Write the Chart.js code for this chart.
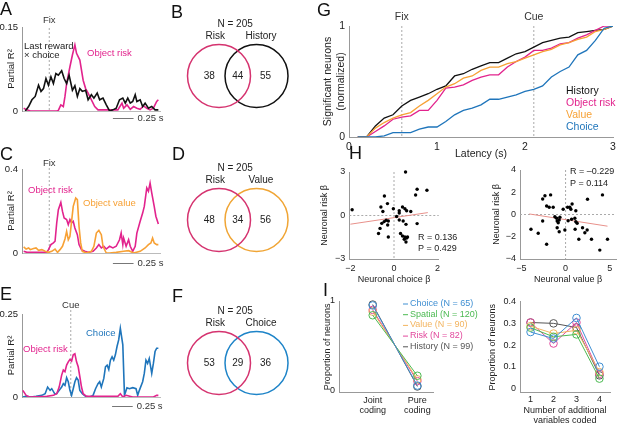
<!DOCTYPE html>
<html>
<head>
<meta charset="utf-8">
<script src="https://cdn.jsdelivr.net/npm/chart.js@4.4.1/dist/chart.umd.min.js"></script>
<style>
  body { margin: 0; background: #fff; }
  #fig { position: relative; width: 617px; height: 423px; overflow: hidden; background: #fff;
         font-family: "Liberation Sans", Arial, Helvetica, sans-serif; }
  #fig canvas { position: absolute; }
  .let { position: absolute; font-size: 18px; line-height: 18px; color: #111; }
</style>
</head>
<body>
<div id="fig"></div>
<script>
// ---- A: time from Fix (s) / partial R2
const aHistT = [-0.29,-0.25,-0.21,-0.17,-0.13,-0.10,-0.07,-0.04,-0.01,0.02,0.05,0.08,0.11,0.15,0.18,0.21,0.24,0.28,0.31,0.34,0.37,0.40,0.44,0.47,0.51,0.54,0.58,0.61,0.65,0.69,0.73,0.77,0.81,0.85,0.89,0.92,0.95,0.98,1.01,1.04,1.06,1.10,1.13,1.16,1.20,1.24,1.28,1.32];
const aHistR2 = [0,0.008,0.020,0.026,0.046,0.035,0.040,0.058,0.046,0.061,0.049,0.067,0.064,0.072,0.058,0.049,0.064,0.037,0.045,0.026,0.040,0.035,0.037,0.020,0.029,0.023,0.032,0.020,0.023,0.011,0,0.002,0.005,0.020,0.023,0.014,0.023,0.014,0.017,0.029,0.017,0.020,0.008,0.014,0.005,0.008,0.002,0.002];
const aRiskT = [-0.31,-0.27,-0.23,0.09,0.11,0.14,0.17,0.19,0.21,0.25,0.28,0.31,0.33,0.37,0.41,0.44,0.47,0.51,0.55,0.59,0.83,0.88,0.90,0.94,0.98,1.02,1.06,1.10,1.14,1.18,1.22,1.26,1.30,1.32];
const aRiskR2 = [0.005,0.002,0,0,0.001,0.011,0.008,0.026,0.049,0.079,0.100,0.118,0.103,0.091,0.055,0.040,0.032,0.020,0.008,0.002,0.002,0.014,0.005,0.011,0.003,0.008,0.005,0.003,0.009,0.005,0.002,0.005,0.017,0.020];

// ---- C: time from Fix (s)
const cRiskT = [-0.31,-0.27,-0.23,-0.03,-0.01,0.02,0.05,0.07,0.09,0.11,0.14,0.16,0.18,0.21,0.23,0.25,0.27,0.29,0.31,0.34,0.36,0.39,0.43,0.47,0.53,0.57,0.60,0.63,0.66,0.69,0.73,0.77,0.81,0.85,0.87,0.89,0.90,0.93,0.96,0.98,1.01,1.04,1.06,1.10,1.13,1.15,1.18,1.20,1.22,1.24,1.27,1.29,1.32];
const cRiskR2 = [0.008,0.003,0.003,0.003,0.016,0.040,0.048,0.056,0.143,0.206,0.241,0.198,0.167,0.159,0.135,0.159,0.143,0.151,0.119,0.087,0.040,0.016,0.008,0.003,0.008,0.024,0.040,0.024,0.032,0.019,0.032,0.024,0.032,0.063,0.095,0.040,0.071,0.032,0.063,0.032,0.008,0.032,0.095,0.151,0.190,0.222,0.310,0.294,0.333,0.286,0.222,0.175,0.138];
const cValueT = [-0.31,-0.28,-0.25,-0.23,-0.19,-0.16,-0.13,-0.09,-0.05,-0.01,0.03,0.07,0.10,0.13,0.16,0.19,0.21,0.23,0.25,0.27,0.29,0.32,0.34,0.36,0.38,0.40,0.45,0.51,0.54,0.57,0.60,0.63,0.65,0.69,0.73,0.81,0.90,0.96,1.02,1.10,1.16,1.20,1.23,1.25,1.27,1.30,1.32];
const cValueR2 = [0.029,0.019,0.024,0.016,0.021,0.024,0.013,0.016,0.008,0.003,0.008,0.019,0.003,0.016,0.032,0.067,0.103,0.063,0.079,0.151,0.222,0.262,0.254,0.127,0.048,0.008,0,0.008,0.032,0.095,0.108,0.087,0.032,0,0,0.003,0.008,0.011,0,0.008,0.024,0.040,0.048,0.071,0.048,0.040,0.040];

// ---- E: time from Cue (s)
const eRiskT = [-0.58,-0.54,-0.50,-0.29,-0.21,-0.17,-0.14,-0.11,-0.09,-0.07,-0.05,-0.03,-0.01,0.01,0.03,0.05,0.07,0.09,0.11,0.13,0.15,0.19,0.57,0.60,0.63,0.67,0.75,1.00,1.04,1.06];
const eRiskR2 = [0.020,0.005,0,0.002,0.005,0.010,0.030,0.066,0.081,0.076,0.096,0.106,0.113,0.108,0.127,0.130,0.106,0.091,0.061,0.030,0.010,0.002,0.002,0.010,0,0.005,0,0,0.005,0.005];
const eChoiceT = [-0.58,-0.54,-0.48,-0.42,-0.35,-0.31,-0.28,-0.25,-0.23,-0.19,-0.17,-0.14,-0.11,-0.09,-0.07,-0.05,-0.03,-0.01,0.01,0.03,0.05,0.07,0.09,0.11,0.14,0.18,0.23,0.27,0.30,0.33,0.35,0.37,0.40,0.42,0.44,0.46,0.48,0.50,0.52,0.54,0.56,0.58,0.60,0.63,0.65,0.68,0.71,0.75,0.79,0.81,0.83,0.87,0.89,0.91,0.93,0.95,0.98,1.00,1.02,1.04,1.06];
const eChoiceR2 = [0,0.002,0,0.002,0.005,0.010,0.030,0.020,0.025,0.008,0.010,0.020,0.030,0.040,0.035,0.058,0.046,0.020,0.005,0.025,0.046,0.058,0.051,0.020,0.010,0.002,0,0.005,0.025,0.040,0.046,0.030,0.056,0.091,0.096,0.083,0.111,0.121,0.111,0.127,0.152,0.172,0.207,0.157,0.005,0.028,0.025,0.028,0.025,0.005,0.020,0.046,0.071,0.111,0.101,0.116,0.071,0.101,0.137,0.147,0.147];

// ---- B, D, F: Venn counts (only first, both, only second)
const vennN = 205;
const vennSets = [['Risk', 'History'], ['Risk', 'Value'], ['Risk', 'Choice']];
const vennCounts = [[38, 44, 55], [48, 34, 56], [53, 29, 36]];

// ---- G: cumulative latency
const latency = [0.1,0.2,0.3,0.4,0.5,0.6,0.7,0.8,0.9,1.0,1.1,1.2,1.3,1.4,1.5,1.6,1.7,1.8,1.9,2.0,2.1,2.2,2.3,2.4,2.5,2.6,2.7,2.8,2.9,3.0];
const gHistory = [0,0,0.10,0.17,0.20,0.28,0.33,0.36,0.39,0.43,0.46,0.55,0.57,0.61,0.64,0.67,0.67,0.71,0.75,0.77,0.81,0.85,0.87,0.89,0.90,0.94,0.95,0.96,0.97,1.0];
const gRisk = [0,0,0.05,0.10,0.16,0.18,0.19,0.24,0.24,0.33,0.44,0.45,0.47,0.51,0.54,0.56,0.56,0.63,0.68,0.72,0.78,0.78,0.80,0.84,0.85,0.89,0.92,0.96,1.0,1.0];
const gValue = [0,0,0.08,0.13,0.17,0.20,0.22,0.28,0.33,0.39,0.45,0.48,0.53,0.55,0.60,0.63,0.63,0.66,0.68,0.71,0.74,0.77,0.79,0.83,0.85,0.88,0.90,0.95,0.97,1.0];
const gChoice = [0,0,0,0.01,0.04,0.04,0.04,0.07,0.09,0.09,0.14,0.20,0.24,0.26,0.29,0.34,0.34,0.36,0.38,0.41,0.43,0.46,0.54,0.59,0.63,0.74,0.78,0.87,0.98,1.0];
const gNames = ['History', 'Object risk', 'Value', 'Choice'];

// ---- H: neuronal betas
const hChoiceBeta = [-1.92,0.53,1.06,1.51,0.99,-0.44,-0.30,-0.60,-0.51,-0.03,0.24,0.39,0.50,0.58,0.24,0.77,-0.45,-0.36,-0.26,-0.29,-0.56,-0.64,-0.71,-0.26,0.24,0.42,0.55,1.06,0.30,0.39,0.50,0.58,0.47,0.55,0.62,0.12];
const hRiskBetaL = [0.40,3.0,1.81,1.74,1.41,1.34,0.82,0.59,0.28,0.47,0.33,0.59,0.47,0.33,0.17,0.28,-0.42,-0.33,-0.38,-0.66,-0.54,-0.89,-1.24,-1.48,-0.31,-0.38,-0.61,-0.56,-1.24,-1.41,-1.48,-1.55,-1.64,-1.83,-1.48,-0.07];
const hFitLX = [-2, 1.55], hFitLY = [-0.6, 0.2];
const hValueBeta = [-3.91,-3.09,-2.59,-2.59,-2.33,-1.69,-2.14,-1.85,-1.40,-2.14,-1.21,-1.01,-0.95,-0.72,-0.83,-0.64,-0.95,-0.72,-0.08,-0.27,0.23,0.48,0.74,0.60,1.16,0.29,0.68,1.05,1.16,1.31,1.08,1.50,1.92,2.18,2.44,2.48,2.93,4.17,3.87,4.74];
const hRiskBetaR = [-1.33,-1.69,-0.59,1.40,1.69,1.76,0.77,0.65,0.65,-2.68,-0.20,-0.34,-0.59,-0.50,-0.74,-0.25,-1.19,-1.55,-1.40,0.47,0.65,0.65,0.95,0.47,0.34,-0.56,-0.43,-0.34,-0.65,-0.79,-1.33,-2.23,-1.19,-1.64,-1.40,1.37,-2.23,1.76,-3.20,-2.23];
const hFitRX = [-4.1, 4.74], hFitRY = [0.05, -1.05];
const hStats = [['R = 0.136', 'P = 0.429'], ['R = \u20130.229', 'P = 0.114']];

// ---- I: joint vs pure coding
const codingCats = ['Joint coding', 'Pure coding'];
const varNames = ['Choice', 'Spatial', 'Value', 'Risk', 'History'];
const varN = [65, 120, 90, 82, 99];
const jointProp = [0.95, 0.84, 0.88, 0.90, 0.96];
const pureProp = [0.05, 0.16, 0.12, 0.10, 0.04];
const addVars = [1, 2, 3, 4];
const addChoice = [0.26, 0.23, 0.325, 0.10];
const addSpatial = [0.28, 0.238, 0.249, 0.045];
const addValue = [0.287, 0.253, 0.268, 0.075];
const addRisk = [0.304, 0.207, 0.304, 0.067];
const addHistory = [0.304, 0.30, 0.281, 0.06];

// ------------------------------------------------------------------
const fig = document.getElementById('fig');
const FONT = '"Liberation Sans", Arial, Helvetica, sans-serif';
Chart.defaults.font.family = FONT;
Chart.defaults.color = '#222';
Chart.defaults.animation = false;
Chart.defaults.events = [];
Chart.defaults.plugins.legend.display = false;
Chart.defaults.plugins.tooltip.enabled = false;

const MAG = '#e2238d', ORA = '#f7a135', BLU = '#1f75bb', BLK = '#111111';
const VRISK = '#d5336f';
const iColors = ['#3f8fd2', '#4cba52', '#f3b45f', '#e2489c', '#555555'];

const pts = (xs, ys) => xs.map((x, i) => ({x: x, y: ys[i]}));
const minus = v => String(v).replace('-', '\u2212');

function axis(min, max, ticks, o) {
  o = o || {};
  const size = o.size || 9.5;
  const lh = o.lh || 1.2;
  return {
    type: 'linear', min: min, max: max,
    grid: {display: false, drawTicks: false},
    border: {display: true, color: o.border || '#999', width: 1},
    ticks: {display: o.labels !== false, padding: o.pad === undefined ? 4 : o.pad,
            font: {size: size, lineHeight: lh}, color: '#222',
            autoSkip: false, maxRotation: 0, callback: o.fmt || (v => minus(v))},
    title: o.title ? {display: true, text: o.title, color: '#222',
                      font: {size: size, lineHeight: lh}, padding: o.tpad || {top: 0, bottom: 0}}
                   : {display: false},
    afterBuildTicks: s => { s.ticks = ticks.map(v => ({value: v})); }
  };
}

// put a chart on the figure so that its plot area lands on "area" (figure px)
function place(box, area, config, under, over) {
  const c = document.createElement('canvas');
  c.width = box.w; c.height = box.h;
  c.style.left = box.x + 'px'; c.style.top = box.y + 'px';
  c.style.width = box.w + 'px'; c.style.height = box.h + 'px';
  fig.appendChild(c);
  const o = config.options;
  o.responsive = false;
  const xs = o.scales.x, ys = o.scales.y;
  o.layout = {autoPadding: false, padding: {
    top: area.t - box.y,
    right: box.x + box.w - area.r,
    left: ys.display === false ? area.l - box.x : 0,
    bottom: xs.display === false ? box.y + box.h - area.b : 0
  }};
  if (xs.display !== false) xs.afterFit = s => { s.height = box.y + box.h - area.b; s.paddingLeft = 0; s.paddingRight = 0; };
  if (ys.display !== false) ys.afterFit = s => { s.width = area.l - box.x; s.paddingTop = 0; s.paddingBottom = 0; };
  const run = (chart, fn) => {
    if (!fn) return;
    const ctx = chart.ctx;
    ctx.save();
    ctx.translate(-box.x, -box.y);
    const X = v => chart.scales.x.getPixelForValue(v) + box.x;
    const Y = v => chart.scales.y.getPixelForValue(v) + box.y;
    fn(ctx, X, Y);
    ctx.restore();
  };
  config.plugins = [{
    id: 'notes',
    beforeDatasetsDraw(chart) { run(chart, under); },
    afterDraw(chart) { run(chart, over); }
  }];
  return new Chart(c, config);
}

function text(ctx, s, x, y, color, align, size) {
  ctx.font = (size || 9.5) + 'px ' + FONT;
  ctx.fillStyle = color || '#222';
  ctx.textAlign = align || 'left';
  ctx.textBaseline = 'middle';
  ctx.fillText(s, x, y);
}
function dash(ctx, x1, y1, x2, y2) {
  ctx.save();
  ctx.setLineDash([2, 2]);
  ctx.strokeStyle = '#aaa';
  ctx.lineWidth = 1;
  ctx.beginPath(); ctx.moveTo(x1, y1); ctx.lineTo(x2, y2); ctx.stroke();
  ctx.restore();
}
function bar(ctx, x1, x2, y, label) {
  ctx.save();
  ctx.strokeStyle = '#777'; ctx.lineWidth = 1;
  ctx.beginPath(); ctx.moveTo(x1, y + 0.5); ctx.lineTo(x2, y + 0.5); ctx.stroke();
  ctx.restore();
  text(ctx, label, x2 + 4, y, '#333');
}

const trace = (xs, ys, color) => ({data: pts(xs, ys), borderColor: color, borderWidth: 1.6,
                                    pointRadius: 0, tension: 0, fill: false});

// ---- A
place({x: 0, y: 8, w: 170, h: 125}, {l: 22, t: 27, r: 160, b: 111}, {
  type: 'line',
  data: {datasets: [trace(aHistT, aHistR2, BLK), trace(aRiskT, aRiskR2, MAG)]},
  options: {scales: {
    x: axis(-0.33, 1.34, [], {labels: false, border: '#bbb'}),
    y: axis(0, 0.15, [0, 0.15], {title: 'Partial R\u00b2', tpad: {top: 6}})
  }}
}, (ctx, X, Y) => {
  dash(ctx, X(0), 28, X(0), Y(0));
}, (ctx, X, Y) => {
  text(ctx, 'Fix', X(0), 20, '#333', 'center');
  text(ctx, 'Last reward', 24, 46);
  text(ctx, '\u00d7 choice', 24, 55);
  text(ctx, 'Object risk', 87, 53, MAG);
  bar(ctx, X(0.77), X(1.02), 118, '0.25 s');
});

// ---- C
place({x: 0, y: 150, w: 170, h: 125}, {l: 22, t: 169, r: 160, b: 253}, {
  type: 'line',
  data: {datasets: [trace(cValueT, cValueR2, ORA), trace(cRiskT, cRiskR2, MAG)]},
  options: {scales: {
    x: axis(-0.33, 1.34, [], {labels: false, border: '#bbb'}),
    y: axis(0, 0.4, [0, 0.4], {title: 'Partial R\u00b2', tpad: {top: 6}})
  }}
}, (ctx, X, Y) => {
  dash(ctx, X(0), 168, X(0), Y(0));
}, (ctx, X, Y) => {
  text(ctx, 'Fix', X(0), 163, '#333', 'center');
  text(ctx, 'Object risk', 28, 190, MAG);
  text(ctx, 'Object value', 83, 203, ORA);
  bar(ctx, X(0.77), X(1.02), 263, '0.25 s');
});

// ---- E
place({x: 0, y: 292, w: 170, h: 131}, {l: 22, t: 314, r: 160, b: 397}, {
  type: 'line',
  data: {datasets: [trace(eRiskT, eRiskR2, MAG), trace(eChoiceT, eChoiceR2, BLU)]},
  options: {scales: {
    x: axis(-0.59, 1.08, [], {labels: false, border: '#bbb'}),
    y: axis(0, 0.25, [0, 0.25], {title: 'Partial R\u00b2', tpad: {top: 6}})
  }}
}, (ctx, X, Y) => {
  dash(ctx, X(0), 310, X(0), Y(0));
}, (ctx, X, Y) => {
  text(ctx, 'Cue', X(0), 305, '#333', 'center');
  text(ctx, 'Choice', 86, 333, BLU);
  text(ctx, 'Object risk', 23, 349, MAG);
  bar(ctx, X(0.50), X(0.75), 406, '0.25 s');
});

// ---- B, D, F Venn diagrams
const vennY = [76, 220, 363];
const vennCol = [[VRISK, BLK], [VRISK, '#f0a535'], [VRISK, '#1e84c8']];
vennSets.forEach((sets, k) => {
  const cy = vennY[k];
  const box = {x: 165, y: cy - 70, w: 140, h: 140};
  place(box, {l: box.x, t: box.y, r: box.x + box.w, b: box.y + box.h}, {
    type: 'scatter',
    data: {datasets: sets.map((s, i) => ({
      data: [{x: i, y: 0}], pointRadius: 31.5, pointBorderWidth: 1.5, clip: false,
      pointBorderColor: vennCol[k][i], pointBackgroundColor: 'rgba(0,0,0,0)'
    }))},
    options: {scales: {
      x: {type: 'linear', display: false, min: -1.44, max: 2.293},
      y: {type: 'linear', display: false, min: -1, max: 1}
    }}
  }, null, (ctx, X, Y) => {
    text(ctx, 'N = ' + vennN, X(0.43), cy - 52, '#222', 'center', 10);
    text(ctx, sets[0], X(-0.1), cy - 40, '#222', 'center', 10);
    text(ctx, sets[1], X(1.12), cy - 40, '#222', 'center', 10);
    const c = vennCounts[k];
    text(ctx, String(c[0]), X(-0.26), Y(0), '#222', 'center', 10);
    text(ctx, String(c[1]), X(0.5), Y(0), '#222', 'center', 10);
    text(ctx, String(c[2]), X(1.24), Y(0), '#222', 'center', 10);
  });
});

// ---- G
const gSeries = [gHistory, gRisk, gValue, gChoice];
const gCols = [BLK, MAG, ORA, BLU];
place({x: 315, y: 8, w: 302, h: 152}, {l: 349, t: 26, r: 613, b: 137}, {
  type: 'line',
  data: {datasets: [3, 2, 1, 0].map(i => Object.assign(trace(latency, gSeries[i], gCols[i]), {borderWidth: 1.3}))},
  options: {scales: {
    x: axis(0, 3, [0, 1, 2, 3], {size: 10.5, title: 'Latency (s)'}),
    y: axis(0, 1, [0, 1], {size: 10.5, title: ['Significant neurons', '(normalized)'], tpad: {top: 7}})
  }}
}, (ctx, X, Y) => {
  dash(ctx, X(0.6), Y(1), X(0.6), Y(0));
  dash(ctx, X(2.1), Y(1), X(2.1), Y(0));
}, (ctx, X, Y) => {
  text(ctx, 'Fix', X(0.6), 17, '#333', 'center', 10.5);
  text(ctx, 'Cue', X(2.1), 17, '#333', 'center', 10.5);
  gNames.forEach((n, i) => text(ctx, n, 566, 91 + i * 12, gCols[i], 'left', 10.5));
});

// ---- H
const hPoint = {pointRadius: 1.7, pointBorderWidth: 0, pointBackgroundColor: '#000', pointBorderColor: '#000', clip: 4};
const hFit = {showLine: true, borderColor: '#e8918b', borderWidth: 1, pointRadius: 0};

place({x: 312, y: 165, w: 172, h: 120}, {l: 349.3, t: 172, r: 438.7, b: 259}, {
  type: 'scatter',
  data: {datasets: [
    Object.assign({data: pts(hChoiceBeta, hRiskBetaL)}, hPoint),
    Object.assign({data: pts(hFitLX, hFitLY)}, hFit)
  ]},
  options: {scales: {
    x: axis(-2.05, 2.05, [-2, 0, 2], {size: 9, title: 'Neuronal choice \u03b2'}),
    y: axis(-3, 3, [-3, 0, 3], {size: 9, title: 'Neuronal risk \u03b2', tpad: {top: 7.6}})
  }}
}, (ctx, X, Y) => {
  dash(ctx, X(0), Y(3), X(0), Y(-3));
  dash(ctx, X(-2.05), Y(0), X(2.05), Y(0));
}, (ctx, X, Y) => {
  text(ctx, hStats[0][0], 418, 238, '#222', 'left', 9);
  text(ctx, hStats[0][1], 418, 249, '#222', 'left', 9);
});

place({x: 484, y: 165, w: 133, h: 120}, {l: 520, t: 170, r: 616, b: 259}, {
  type: 'scatter',
  data: {datasets: [
    Object.assign({data: pts(hValueBeta, hRiskBetaR)}, hPoint),
    Object.assign({data: pts(hFitRX, hFitRY)}, hFit)
  ]},
  options: {scales: {
    x: axis(-5.15, 5.7, [-5, 0, 5], {size: 9, title: 'Neuronal value \u03b2'}),
    y: axis(-4, 4, [-4, -2, 0, 2, 4], {size: 9, title: 'Neuronal risk \u03b2', tpad: {top: 7.6}})
  }}
}, (ctx, X, Y) => {
  dash(ctx, X(0), Y(4), X(0), Y(-4));
  dash(ctx, X(-5.15), Y(0), X(5.7), Y(0));
}, (ctx, X, Y) => {
  text(ctx, hStats[1][0], 570, 172, '#222', 'left', 9);
  text(ctx, hStats[1][1], 570, 184, '#222', 'left', 9);
});

// ---- I
const ringPoint = (col) => ({borderColor: col, borderWidth: 1, pointRadius: 3.8, pointBorderWidth: 1, clip: 6,
                             pointBorderColor: col, pointBackgroundColor: 'rgba(255,255,255,0)', tension: 0});
place({x: 315, y: 295, w: 175, h: 125}, {l: 339, t: 301, r: 433, b: 392.7}, {
  type: 'line',
  data: {datasets: varNames.map((n, i) => Object.assign(
    {data: [{x: 0, y: jointProp[i]}, {x: 1, y: pureProp[i]}]}, ringPoint(iColors[i])))},
  options: {scales: {
    x: axis(-0.755, 1.35, [0, 1], {size: 9, lh: 1.1, pad: 3, fmt: v => codingCats[v].split(' ')}),
    y: axis(-0.03, 1, [0, 1], {size: 9, title: 'Proportion of neurons', tpad: {top: 7.6}})
  }}
}, null, (ctx, X, Y) => {
  varNames.forEach((n, i) => {
    const y = 303.5 + i * 10.7;
    ctx.save(); ctx.strokeStyle = iColors[i]; ctx.lineWidth = 1;
    ctx.beginPath(); ctx.moveTo(403, y + 0.5); ctx.lineTo(408, y + 0.5); ctx.stroke(); ctx.restore();
    text(ctx, n + ' (N = ' + varN[i] + ')', 410, y, iColors[i], 'left', 9);
  });
});

const addSeries = [addChoice, addSpatial, addValue, addRisk, addHistory];
place({x: 480, y: 295, w: 137, h: 130}, {l: 520, t: 301.7, r: 610, b: 392.7}, {
  type: 'line',
  data: {datasets: addSeries.map((s, i) => Object.assign({data: pts(addVars, s)}, ringPoint(iColors[i])))},
  options: {scales: {
    x: axis(0.54, 4.46, addVars, {size: 9, lh: 1.1, pad: 2,
             title: ['Number of additional', 'variables coded']}),
    y: axis(-0.02, 0.4, [0, 0.1, 0.2, 0.3, 0.4], {size: 9, title: 'Proportion of neurons', tpad: {top: 7.6}})
  }}
});

// ---- panel letters
[['A', 0, 0], ['B', 171, 3], ['C', 0, 145], ['D', 172, 145], ['E', 0, 285],
 ['F', 172, 287], ['G', 317, 1], ['H', 349, 144], ['I', 323, 281]].forEach(l => {
  const d = document.createElement('div');
  d.className = 'let';
  d.textContent = l[0];
  d.style.left = l[1] + 'px';
  d.style.top = l[2] + 'px';
  fig.appendChild(d);
});
</script>
</body>
</html>
